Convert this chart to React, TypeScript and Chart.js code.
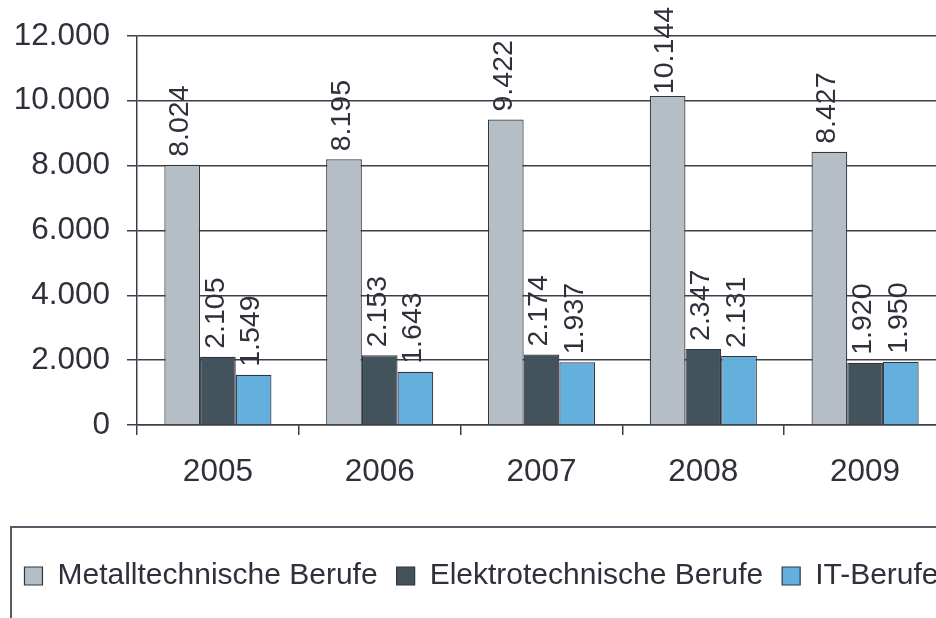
import React, { useEffect, useRef } from "react";
import { Chart, registerables } from "chart.js";

Chart.register(...registerables);

const categories = ["2005", "2006", "2007", "2008", "2009"];
const seriesNames = ["Metalltechnische Berufe", "Elektrotechnische Berufe", "IT-Berufe"];
const metall = [8024, 8195, 9422, 10144, 8427];
const elektro = [2105, 2153, 2174, 2347, 1920];
const itBerufe = [1549, 1643, 1937, 2131, 1950];
const yMin = 0;
const yMax = 12000;
const yStep = 2000;

const de = (n: number) => String(Math.round(n)).replace(/\B(?=(\d{3})+(?!\d))/g, ".");

export default function App() {
  const ref = useRef<HTMLCanvasElement>(null);

  useEffect(() => {
    const canvas = ref.current;
    if (!canvas) return;
    const TEXT = "#30303c";
    const GRID = "#3e3e4a";
    const FAMILY = "'Liberation Sans', Arial, sans-serif";

    const valueLabels = {
      id: "valueLabels",
      afterDatasetsDraw(chart: any) {
        const ctx = chart.ctx;
        ctx.save();
        ctx.font = `28.5px ${FAMILY}`;
        ctx.fillStyle = TEXT;
        ctx.textAlign = "left";
        ctx.textBaseline = "middle";
        chart.data.datasets.forEach((ds: any, i: number) => {
          const meta = chart.getDatasetMeta(i);
          meta.data.forEach((bar: any, j: number) => {
            const txt = de(ds.data[j]);
            const w = ctx.measureText(txt).width;
            let start = bar.y - 8;
            if (start - w < 7) start = 7 + w;
            ctx.save();
            ctx.translate(bar.x - 2, start);
            ctx.rotate(-Math.PI / 2);
            ctx.fillText(txt, 0, 0);
            ctx.restore();
          });
        });
        ctx.restore();
      },
    };

    const legendFrame = {
      id: "legendFrame",
      afterDraw(chart: any) {
        const ctx = chart.ctx;
        ctx.save();
        ctx.strokeStyle = "#5a5a66";
        ctx.lineWidth = 2;
        ctx.strokeRect(11, 527, 2000, 300);
        ctx.restore();
      },
    };

    const chart = new Chart(canvas, {
      type: "bar",
      data: {
        labels: categories,
        datasets: [
          { label: seriesNames[0], data: metall, backgroundColor: "#b4bec4", borderColor: "#34343f", borderWidth: 1.2 },
          { label: seriesNames[1], data: elektro, backgroundColor: "#42535b", borderColor: "#34343f", borderWidth: 1.2 },
          { label: seriesNames[2], data: itBerufe, backgroundColor: "#63b0dc", borderColor: "#34343f", borderWidth: 1.2 },
        ],
      },
      options: {
        responsive: false,
        animation: false,
        events: [],
        datasets: { bar: { categoryPercentage: 0.662, barPercentage: 1.0 } },
        layout: { padding: { top: 32, left: 0, right: 0, bottom: 17 } },
        plugins: {
          tooltip: { enabled: false },
          legend: {
            position: "bottom",
            labels: {
              font: { size: 30, family: FAMILY },
              color: TEXT,
              boxWidth: 18,
              boxHeight: 18,
              padding: 19,
            },
          },
        },
        scales: {
          x: {
            type: "category",
            offset: true,
            grid: { display: true, drawOnChartArea: false, drawTicks: true, tickLength: 10, offset: true, color: GRID, lineWidth: 1.5 },
            border: { display: true, color: GRID, width: 1.5 },
            ticks: { font: { size: 31.5, family: FAMILY }, color: TEXT, padding: 18, maxRotation: 0 },
            afterFit: (s: any) => { s.height = 117; },
          },
          y: {
            min: yMin,
            max: yMax,
            ticks: { stepSize: yStep, callback: (v: any) => de(Number(v)), font: { size: 31.5, family: FAMILY }, color: TEXT, padding: 17 },
            grid: { color: GRID, lineWidth: 1.5, drawTicks: true, tickLength: 10 },
            border: { display: true, color: GRID, width: 1.5 },
            afterFit: (s: any) => { s.width = 137; },
          },
          yR: {
            type: "linear",
            position: "right",
            display: true,
            grid: { display: false, drawTicks: false },
            ticks: { display: false },
            border: { display: false },
            afterFit: (s: any) => { s.width = 17; },
          },
        },
      },
      plugins: [valueLabels, legendFrame],
    } as any);

    return () => chart.destroy();
  }, []);

  return (
    <div style={{ position: "fixed", left: 0, top: 0, width: 936, height: 618, overflow: "hidden", background: "#ffffff" }}>
      <canvas ref={ref} width={963} height={618} style={{ display: "block", position: "absolute", left: 0, top: 0 }} />
    </div>
  );
}
